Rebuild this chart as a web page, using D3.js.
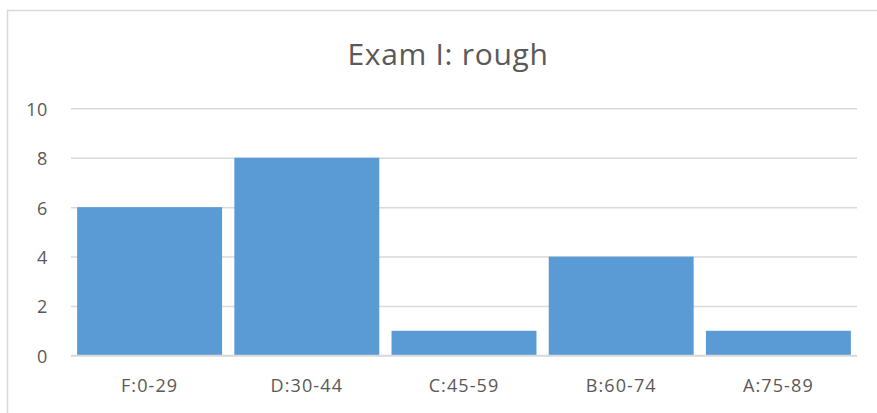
<!DOCTYPE html>
<html>
<head>
<meta charset="utf-8">
<script src="https://cdn.jsdelivr.net/npm/d3@7"></script>
<style>
  html, body { margin: 0; padding: 0; background: #fff; }
  svg { display: block; }
  text { font-family: "Open Sans", "Noto Sans", sans-serif; fill: #595959; }
</style>
</head>
<body>
<script>
const categories = ["F:0-29", "D:30-44", "C:45-59", "B:60-74", "A:75-89"];
const values = [6, 8, 1, 4, 1];
const yTicks = [0, 2, 4, 6, 8, 10];
const title = "Exam I: rough";

const W = 877, H = 413;
const plot = { left: 71, right: 857, top: 108.3, bottom: 355.5 };

const svg = d3.select("body").append("svg").attr("width", W).attr("height", H);

// chart border (outer frame, extends past the page edges)
svg.append("rect")
  .attr("x", 7.5).attr("y", 10.5)
  .attr("width", W + 20).attr("height", H + 20)
  .attr("fill", "none").attr("stroke", "#d9d9d9").attr("stroke-width", 1.5);

const x = d3.scaleBand().domain(categories)
  .range([plot.left, plot.right]).paddingInner(0.078).paddingOuter(0.039);
const y = d3.scaleLinear().domain([0, 10]).range([plot.bottom, plot.top]);

// gridlines
const yAxis = d3.axisLeft(y).tickValues(yTicks).tickSize(-(plot.right - plot.left)).tickPadding(23).tickFormat(d3.format("d"));
const gy = svg.append("g").attr("transform", `translate(${plot.left},0)`).call(yAxis);
gy.select(".domain").remove();
gy.selectAll(".tick line").attr("stroke", "#d9d9d9").attr("stroke-width", 1.5);
gy.selectAll(".tick text").attr("font-size", 18).attr("letter-spacing", 0.6).attr("dy", "0.38em").attr("fill", "#595959");

// bars
svg.append("g").selectAll("rect").data(values).join("rect")
  .attr("x", (d, i) => x(categories[i]))
  .attr("width", x.bandwidth())
  .attr("y", d => y(d))
  .attr("height", d => y(0) - y(d))
  .attr("fill", "#5b9bd5");

// baseline redraw over bars
svg.append("line")
  .attr("x1", plot.left).attr("x2", plot.right)
  .attr("y1", y(0)).attr("y2", y(0))
  .attr("stroke", "#d9d9d9").attr("stroke-width", 1.5);

// x axis labels
const xAxis = d3.axisBottom(x).tickSize(0).tickPadding(24);
const gx = svg.append("g").attr("transform", `translate(0,${plot.bottom})`).call(xAxis);
gx.select(".domain").remove();
gx.selectAll(".tick text").attr("font-size", 18).attr("letter-spacing", 1.1).attr("fill", "#595959");

// title
svg.append("text")
  .attr("x", 448).attr("y", 65)
  .attr("text-anchor", "middle")
  .attr("font-size", 30).attr("letter-spacing", 0.7)
  .text(title);
</script>
</body>
</html>
